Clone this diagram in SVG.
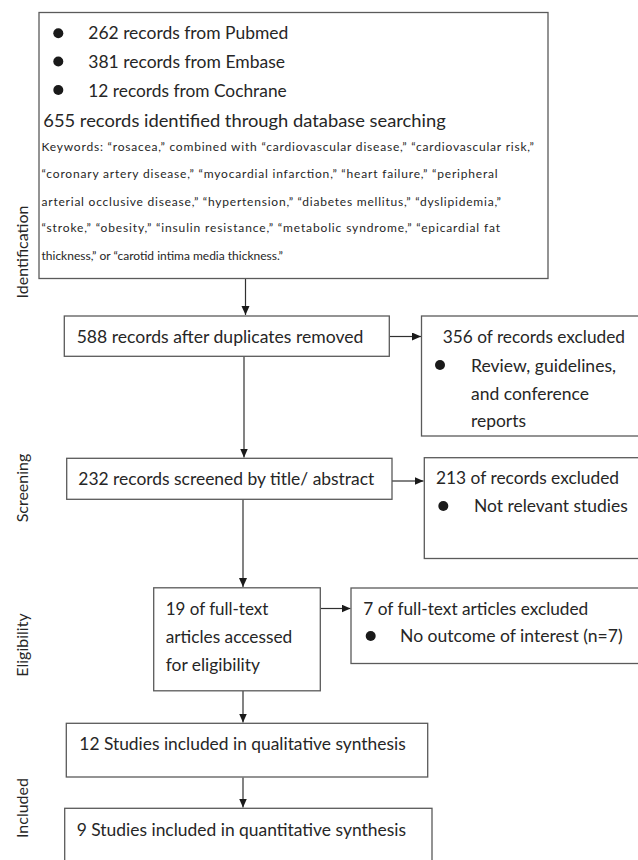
<svg xmlns="http://www.w3.org/2000/svg" width="638" height="860" viewBox="0 0 638 860">
  <style>
    .box { fill: #ffffff; stroke: #5a5a5a; stroke-width: 1.3; }
    .t { font-family: Lato, "Open Sans", "Liberation Sans", sans-serif; fill: #262626; }
    .m { font-size: 17px; }
    .k { font-size: 12px; }
    .side { font-size: 16px; text-anchor: middle; }
    .conn { stroke: #303030; stroke-width: 1.2; fill: none; marker-end: url(#arr); }
    .dot { fill: #1a1a1a; }
  </style>
  <defs>
    <marker id="arr" markerUnits="userSpaceOnUse" markerWidth="10" markerHeight="10" refX="9" refY="4" orient="auto">
      <path d="M0,0 L9,4 L0,8 Z" fill="#1a1a1a"/>
    </marker>
  </defs>
  <rect width="638" height="860" fill="#ffffff"/>

  <g id="labels">
    <text class="t side" transform="translate(28,252) rotate(-90)">Identification</text>
    <text class="t side" transform="translate(28,488) rotate(-90)">Screening</text>
    <text class="t side" transform="translate(28,645) rotate(-90)">Eligibility</text>
    <text class="t side" transform="translate(28,808) rotate(-90)">Included</text>
  </g>

  <g id="connectors">
    <line class="conn" x1="245.5" y1="279" x2="245.5" y2="315"/>
    <line class="conn" x1="389.5" y1="336.5" x2="421" y2="336.5"/>
    <line class="conn" x1="244" y1="356.5" x2="244" y2="457.5"/>
    <line class="conn" x1="392" y1="481" x2="423.5" y2="481"/>
    <line class="conn" x1="243" y1="499.5" x2="243" y2="587"/>
    <line class="conn" x1="320.5" y1="608.5" x2="350.5" y2="608.5"/>
    <line class="conn" x1="243" y1="691" x2="243" y2="722.5"/>
    <line class="conn" x1="243" y1="777.5" x2="243" y2="807.5"/>
  </g>

  <g id="n-identified">
    <rect class="box" x="39" y="12.5" width="509" height="266"/>
    <circle class="dot" cx="58.3" cy="33.3" r="5"/>
    <circle class="dot" cx="58.3" cy="61.5" r="5"/>
    <circle class="dot" cx="58.3" cy="90" r="5"/>
    <text class="t m" x="88.3" y="39.3" textLength="200" lengthAdjust="spacingAndGlyphs">262 records from Pubmed</text>
    <text class="t m" x="88.3" y="67.7" textLength="196.7" lengthAdjust="spacingAndGlyphs">381 records from Embase</text>
    <text class="t m" x="88.3" y="96.7" textLength="198.4" lengthAdjust="spacingAndGlyphs">12 records from Cochrane</text>
    <text class="t m" x="43.3" y="127.3" textLength="402.4" lengthAdjust="spacingAndGlyphs">655 records identified through database searching</text>
    <text class="t k" x="41.5" y="150.7" textLength="492.5" lengthAdjust="spacing">Keywords: “rosacea,” combined with “cardiovascular disease,” “cardiovascular risk,”</text>
    <text class="t k" x="41.5" y="178.3" textLength="456.2" lengthAdjust="spacing">“coronary artery disease,” “myocardial infarction,” “heart failure,” “peripheral</text>
    <text class="t k" x="41.5" y="205.7" textLength="459.5" lengthAdjust="spacing">arterial occlusive disease,” “hypertension,” “diabetes mellitus,” “dyslipidemia,”</text>
    <text class="t k" x="41.5" y="232.3" textLength="458.5" lengthAdjust="spacing">“stroke,” “obesity,” “insulin resistance,” “metabolic syndrome,” “epicardial fat</text>
    <text class="t k" x="41.5" y="260">thickness,” or “carotid intima media thickness.”</text>
  </g>

  <g id="n-dedup">
    <rect class="box" x="64.3" y="316" width="325" height="40.3"/>
    <text class="t m" x="76.7" y="342.7" textLength="286.6" lengthAdjust="spacingAndGlyphs">588 records after duplicates removed</text>
  </g>

  <g id="n-excl1">
    <rect class="box" x="421.5" y="316" width="230" height="120"/>
    <text class="t m" x="442.7" y="343.3" textLength="182.3" lengthAdjust="spacingAndGlyphs">356 of records excluded</text>
    <circle class="dot" cx="440" cy="365" r="5"/>
    <text class="t m" x="471" y="371.7" textLength="145" lengthAdjust="spacingAndGlyphs">Review, guidelines,</text>
    <text class="t m" x="471" y="400" textLength="118" lengthAdjust="spacingAndGlyphs">and conference</text>
    <text class="t m" x="471" y="426.7" textLength="55" lengthAdjust="spacingAndGlyphs">reports</text>
  </g>

  <g id="n-screened">
    <rect class="box" x="66.7" y="458.3" width="325.3" height="41"/>
    <text class="t m" x="78.3" y="485" textLength="296" lengthAdjust="spacingAndGlyphs">232 records screened by title/ abstract</text>
  </g>

  <g id="n-excl2">
    <rect class="box" x="424.3" y="457.7" width="230" height="100.8"/>
    <text class="t m" x="436" y="484.3" textLength="183" lengthAdjust="spacingAndGlyphs">213 of records excluded</text>
    <circle class="dot" cx="443.3" cy="506" r="5"/>
    <text class="t m" x="474" y="512.3" textLength="153.7" lengthAdjust="spacingAndGlyphs">Not relevant studies</text>
  </g>

  <g id="n-fulltext">
    <rect class="box" x="153.7" y="587.8" width="166.6" height="103"/>
    <text class="t m" x="165.7" y="615" textLength="102.6" lengthAdjust="spacingAndGlyphs">19 of full-text</text>
    <text class="t m" x="165.7" y="643.3" textLength="126.6" lengthAdjust="spacingAndGlyphs">articles accessed</text>
    <text class="t m" x="165.7" y="671" textLength="94.3" lengthAdjust="spacingAndGlyphs">for eligibility</text>
  </g>

  <g id="n-excl3">
    <rect class="box" x="351" y="588" width="300" height="75.5"/>
    <text class="t m" x="363.3" y="615" textLength="225" lengthAdjust="spacingAndGlyphs">7 of full-text articles excluded</text>
    <circle class="dot" cx="370.7" cy="636" r="5"/>
    <text class="t m" x="400" y="641.7" textLength="222.7" lengthAdjust="spacingAndGlyphs">No outcome of interest (n=7)</text>
  </g>

  <g id="n-qualitative">
    <rect class="box" x="66.3" y="723.3" width="361.4" height="53.7"/>
    <text class="t m" x="79.3" y="750" textLength="326.4" lengthAdjust="spacingAndGlyphs">12 Studies included in qualitative synthesis</text>
  </g>

  <g id="n-quantitative">
    <rect class="box" x="64.7" y="808.3" width="367.3" height="70"/>
    <text class="t m" x="76.7" y="835.7" textLength="329.3" lengthAdjust="spacingAndGlyphs">9 Studies included in quantitative synthesis</text>
  </g>
</svg>
